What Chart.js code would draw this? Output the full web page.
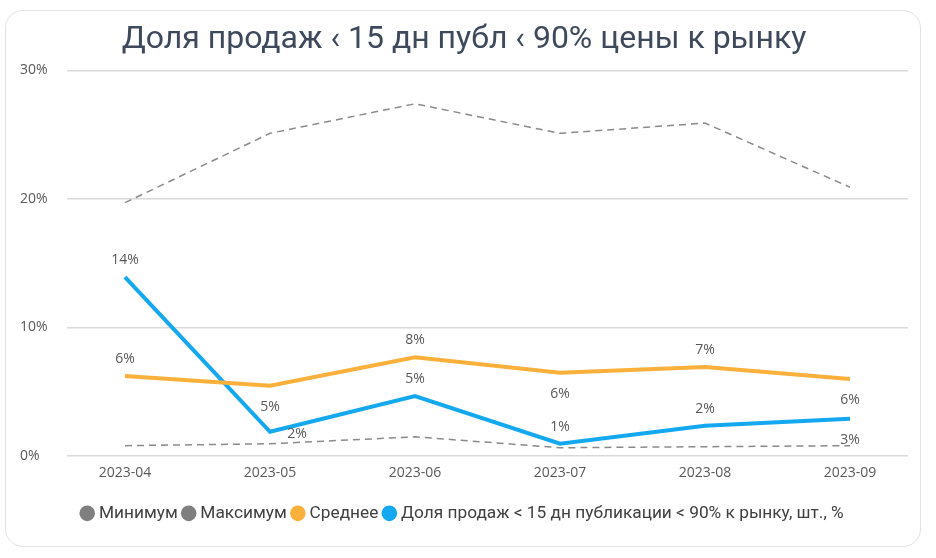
<!DOCTYPE html>
<html>
<head>
<meta charset="utf-8">
<script src="https://cdn.jsdelivr.net/npm/chart.js@4.4.0/dist/chart.umd.min.js"></script>
<style>
    body { margin: 0; background: #fff; }
    #card {
        position: absolute; left: 5px; top: 10px; width: 914px; height: 535px;
        border: 1px solid #e2e2e2; border-radius: 18px;
    }
    #wrap { position: absolute; left: 0; top: 0; width: 936px; height: 558px; }
</style>
</head>
<body>
<div id="card"></div>
<div id="wrap"><canvas id="chart"></canvas></div>
<script>
const months = ["2023-04", "2023-05", "2023-06", "2023-07", "2023-08", "2023-09"];
const minValues = [0.78, 0.93, 1.47, 0.62, 0.70, 0.78];
const maxValues = [19.7, 25.1, 27.4, 25.1, 25.9, 20.9];
const avgValues = [6.2, 5.45, 7.67, 6.45, 6.9, 5.97];
const shareValues = [13.9, 1.86, 4.65, 0.93, 2.33, 2.87];
const yTicks = [0, 10, 20, 30];

// where the value label sits relative to its point
const avgLabelPos = ["above", "below", "above", "below", "above", "below"];
const shareLabelPos = ["above", "right", "above", "above", "above", "below"];

const valueLabels = {
    id: "valueLabels",
    afterDatasetsDraw(chart) {
        const ctx = chart.ctx;
        ctx.save();
        ctx.font = "14px 'Open Sans'";
        ctx.fillStyle = "#595959";
        ctx.textAlign = "center";
        ctx.textBaseline = "middle";
        chart.data.datasets.forEach((ds, i) => {
            if (!ds.labelPos) return;
            chart.getDatasetMeta(i).data.forEach((pt, j) => {
                const txt = Math.round(ds.data[j].y) + "%";
                const pos = ds.labelPos[j];
                let x = pt.x, y = pt.y;
                if (pos === "above") y -= 17;
                else if (pos === "below") y += 21;
                else { x += 27; y += 2; }
                ctx.fillText(txt, x, y);
            });
        });
        ctx.restore();
    }
};

const lineSet = (label, values, color, width, dash) => ({
    label: label,
    data: values.map((v, i) => ({ x: i, y: v })),
    borderColor: color,
    backgroundColor: color,
    borderWidth: width,
    borderDash: dash,
    pointRadius: 0,
    pointBorderWidth: 0,
    pointBackgroundColor: color,
});

const minSet = lineSet("Минимум", minValues, "#8a8a8a", 1.5, [7, 5]);
minSet.pointBackgroundColor = "#7f7f7f";
const maxSet = lineSet("Максимум", maxValues, "#8a8a8a", 1.5, [7, 5]);
maxSet.pointBackgroundColor = "#7f7f7f";
const avgSet = lineSet("Среднее", avgValues, "#fbb03b", 4, []);
avgSet.labelPos = avgLabelPos;
const shareSet = lineSet("Доля продаж < 15 дн публикации < 90% к рынку, шт., %", shareValues, "#13a8f0", 4, []);
shareSet.labelPos = shareLabelPos;

new Chart(document.getElementById("chart"), {
    type: "line",
    data: { datasets: [minSet, maxSet, avgSet, shareSet] },
    options: {
        responsive: true,
        maintainAspectRatio: false,
        animation: false,
        layout: { padding: { left: 20, right: 28, top: 0, bottom: 26 } },
        scales: {
            x: {
                type: "linear",
                min: -0.4,
                max: 5.4,
                afterBuildTicks: (scale) => { scale.ticks = months.map((m, i) => ({ value: i })); },
                afterFit: (scale) => { scale.height = 41; },
                ticks: {
                    callback: (v) => months[v],
                    color: "#595959",
                    font: { family: "'Open Sans'", size: 14 },
                    padding: 9,
                    maxRotation: 0,
                },
                grid: { display: false, drawTicks: false },
                border: { display: false },
            },
            y: {
                min: 0,
                max: 30,
                afterBuildTicks: (scale) => { scale.ticks = yTicks.map(v => ({ value: v })); },
                afterFit: (scale) => { scale.width = 47; },
                ticks: {
                    callback: (v) => v + "%",
                    color: "#595959",
                    font: { family: "'Open Sans'", size: 14 },
                    crossAlign: "far",
                    padding: 16,
                },
                grid: { color: "#d9d9d9", lineWidth: 1.5, drawTicks: false },
                border: { display: false },
            },
        },
        plugins: {
            title: {
                display: true,
                text: "Доля продаж ‹ 15 дн публ ‹ 90% цены к рынку",
                color: "#3e4a5c",
                font: { family: "Roboto", size: 32, weight: "normal" },
                padding: { top: 21, bottom: 11 },
            },
            legend: {
                position: "bottom",
                labels: {
                    usePointStyle: true,
                    pointStyle: "circle",
                    boxWidth: 6,
                    boxHeight: 11,
                    color: "#404040",
                    font: { family: "Roboto", size: 17.3 },
                    padding: 8,
                },
            },
            tooltip: { enabled: false },
        },
    },
    plugins: [valueLabels],
});
</script>
</body>
</html>
